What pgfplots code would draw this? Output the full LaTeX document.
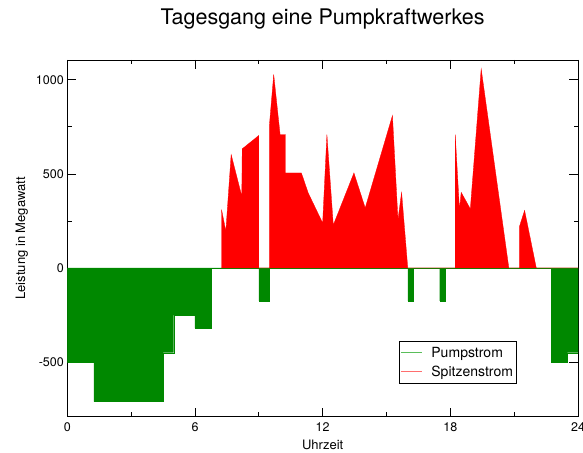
\documentclass[border=0pt]{standalone}
\usepackage{pgfplots}
\pgfplotsset{compat=1.18}
\usepackage{fontspec}
\setmainfont{TeX Gyre Heros}
\definecolor{pgreen}{RGB}{0,136,0}
\definecolor{pred}{RGB}{255,0,0}
\definecolor{lgreen}{RGB}{90,190,90}
\definecolor{lred}{RGB}{255,110,110}
\begin{document}
\begin{tikzpicture}
\begin{axis}[
  at={(0,0)}, anchor=south west,
  scale only axis,
  width=510.7pt, height=356.7pt,
  xmin=0, xmax=24, ymin=-790, ymax=1105,
  xtick={0,6,12,18,24},
  ytick={-500,0,500,1000},
  minor x tick num=1,
  minor y tick num=1,
  tick align=inside,
  major tick length=9pt,
  minor tick length=4.5pt,
  axis line style={black, line width=0.7pt},
  every tick/.style={black, line width=0.7pt},
  /pgf/number format/assume math mode=true,
  /pgf/number format/1000 sep={},
  tick label style={font=\fontsize{12.5}{14}\selectfont},
  xticklabel style={yshift=-2pt},
  xlabel={Uhrzeit},
  ylabel={Leistung in Megawatt},
  xlabel style={font=\fontsize{13}{15}\selectfont, at={([yshift=-28pt]axis description cs:0.5,0)}, anchor=center},
  ylabel style={font=\fontsize{13}{15}\selectfont, at={([xshift=-45.6pt]axis description cs:0,0.5)}, anchor=center, rotate=0},
  title={Tagesgang eine Pumpkraftwerkes},
  title style={font=\fontsize{21.5}{24}\selectfont, at={([yshift=29.5pt]axis description cs:0.5,1)}, anchor=base},
  legend style={at={([xshift=331.7pt,yshift=75.7pt]axis description cs:0,0)}, anchor=north west,
    draw=black, line width=0.8pt, font=\fontsize{14}{16}\selectfont,
    inner xsep=1pt, inner ysep=3.5pt, row sep=3pt, cells={anchor=west}},
]
% Pumpstrom (negative)
\addplot[fill=pgreen, draw=pgreen, line width=0.3pt, forget plot] coordinates {
  (0,-500) (1.25,-500) (1.25,-710) (4.5,-710) (4.5,-450) (5,-450) (5,-250) (6,-250)
  (6,-320) (6.75,-320) (6.75,0) (9,0) (9,-175) (9.5,-175) (9.5,0) (16,0)
  (16,-175) (16.25,-175) (16.25,0) (17.5,0) (17.5,-175) (17.75,-175) (17.75,0)
  (22.75,0) (22.75,-500) (23.5,-500) (23.5,-450) (24,-450)
} \closedcycle;
% Spitzenstrom (positive)
\addplot[fill=pred, draw=pred, line width=0.3pt, forget plot] coordinates {
  (7.25,0) (7.25,310) (7.45,195) (7.7,603) (8.2,381) (8.22,633) (9,704) (9,0)
  (9.5,0) (9.5,762) (9.7,1028) (10,709) (10.25,709) (10.25,505) (11,505)
  (11.32,399) (12,239) (12.2,709) (12.5,228) (13.47,505) (14,319) (15.28,810)
  (15.54,257) (15.71,402) (16,0) (18.23,0) (18.23,709) (18.43,310) (18.51,402)
  (18.94,314) (19.45,1058) (20.75,0) (21.25,0) (21.25,221) (21.49,306) (22.04,0)
  (24,0)
} \closedcycle;
\addlegendimage{legend image code/.code={\draw[lgreen, line width=1.2pt] (2pt,0pt) -- (23pt,0pt); \path (30pt,0pt);}}
\addlegendentry{Pumpstrom}
\addlegendimage{legend image code/.code={\draw[lred, line width=1.2pt] (2pt,0pt) -- (23pt,0pt); \path (30pt,0pt);}}
\addlegendentry{Spitzenstrom}
\end{axis}
\pgfresetboundingbox
\path[use as bounding box] (-67.3pt,-35.3pt) rectangle (515.7pt,416.7pt);
\end{tikzpicture}
\end{document}
